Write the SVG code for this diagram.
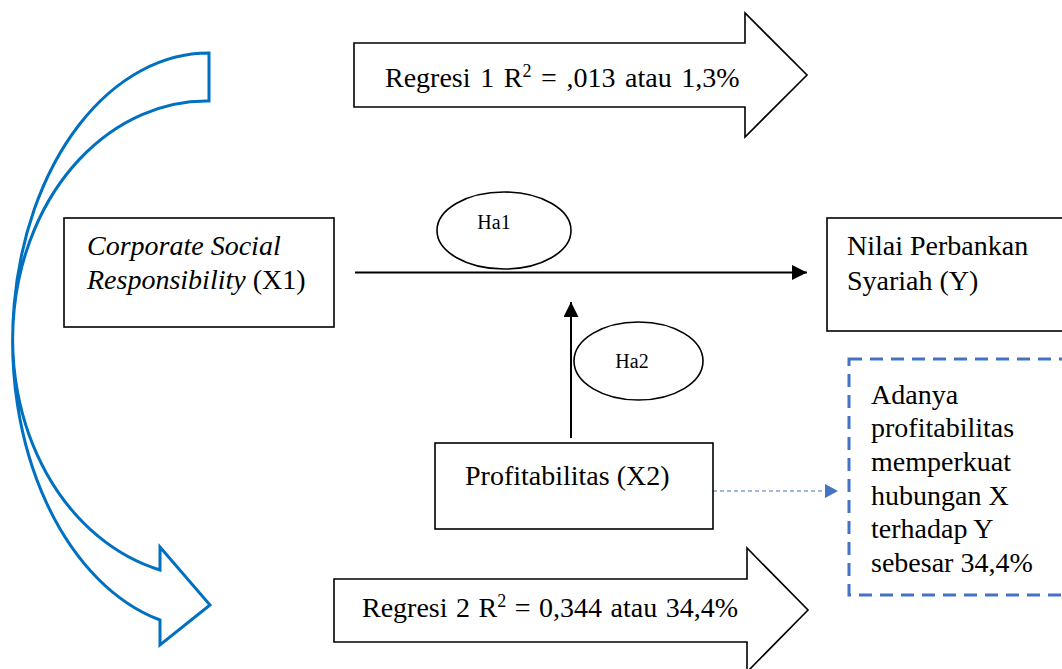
<svg xmlns="http://www.w3.org/2000/svg" width="1062" height="669" viewBox="0 0 1062 669">
<style>
text{font-family:"Liberation Serif","Times New Roman",serif;fill:#000}
.t{font-size:28px}
.s{font-size:20px}
.box{fill:#fff;stroke:#000;stroke-width:1.6}
.blk{fill:#fff;stroke:#000;stroke-width:1.6;stroke-linejoin:miter}
.ell{fill:#fff;stroke:#000;stroke-width:1.6}
.ln{stroke:#000;stroke-width:2;fill:none}
</style>
<defs>
<marker id="ah" viewBox="0 0 10 10" refX="10" refY="5" markerWidth="15" markerHeight="15" markerUnits="userSpaceOnUse" orient="auto"><path d="M0,0 L10,5 L0,10 Z" fill="#000"/></marker>
</defs>
<rect width="1062" height="669" fill="#fff"/>

<g id="curved-arrow">
<path d="M209,53 A196,288 0 0 0 160,620 L160,645 L210,605 L160,547 L160,570 A194,238 0 0 1 209,101 Z" fill="#fff" stroke="#0070C0" stroke-width="3" stroke-linejoin="miter"/>
</g>

<g id="regresi1">
<polygon class="blk" points="354,43 745,43 745,13 807,75 745,137 745,107 354,107"/>
<text class="t" x="385" y="87" word-spacing="2.6">Regresi 1 R<tspan font-size="18" dy="-10">2</tspan><tspan dy="10"> = ,013 atau 1,3%</tspan></text>
</g>

<g id="regresi2">
<polygon class="blk" points="334,579 747,579 747,548 808,610 747,672 747,642 334,642"/>
<text class="t" x="362" y="617" word-spacing="1.5">Regresi 2 R<tspan font-size="18" dy="-10">2</tspan><tspan dy="10"> = 0,344 atau 34,4%</tspan></text>
</g>

<g id="connectors">
<line class="ln" x1="355" y1="272.5" x2="807" y2="272.5" marker-end="url(#ah)"/>
<line class="ln" x1="571" y1="438" x2="571" y2="302" marker-end="url(#ah)"/>
<line x1="713" y1="491" x2="828" y2="491" stroke="#4472C4" stroke-width="1.2" stroke-dasharray="4,3"/>
<polygon points="825,484 838,491 825,498" fill="#4472C4"/>
</g>

<g id="csr">
<rect class="box" x="64" y="218" width="270" height="109"/>
<text class="t" x="87" y="255"><tspan font-style="italic">Corporate Social</tspan></text>
<text class="t" x="87" y="289"><tspan font-style="italic">Responsibility</tspan> (X1)</text>
</g>

<g id="ha1">
<ellipse class="ell" cx="504" cy="230.5" rx="67" ry="38.5"/>
<text class="s" x="494" y="229" text-anchor="middle">Ha1</text>
</g>

<g id="nilai">
<rect class="box" x="827" y="218" width="250" height="113"/>
<text class="t" x="847" y="255">Nilai Perbankan</text>
<text class="t" x="847" y="290">Syariah (Y)</text>
</g>

<g id="ha2">
<ellipse class="ell" cx="638.5" cy="361" rx="64.5" ry="39"/>
<text class="s" x="632" y="368" text-anchor="middle">Ha2</text>
</g>

<g id="profitabilitas">
<rect class="box" x="435" y="443" width="278" height="86"/>
<text class="t" x="465" y="485">Profitabilitas (X2)</text>
</g>

<g id="keterangan">
<rect x="849" y="359" width="240" height="236" fill="#fff" stroke="#4472C4" stroke-width="3" stroke-dasharray="13,8"/>
<text class="t" x="871" y="404">Adanya</text>
<text class="t" x="871" y="437">profitabilitas</text>
<text class="t" x="871" y="471">memperkuat</text>
<text class="t" x="871" y="505">hubungan X</text>
<text class="t" x="871" y="538">terhadap Y</text>
<text class="t" x="871" y="572">sebesar 34,4%</text>
</g>
</svg>
